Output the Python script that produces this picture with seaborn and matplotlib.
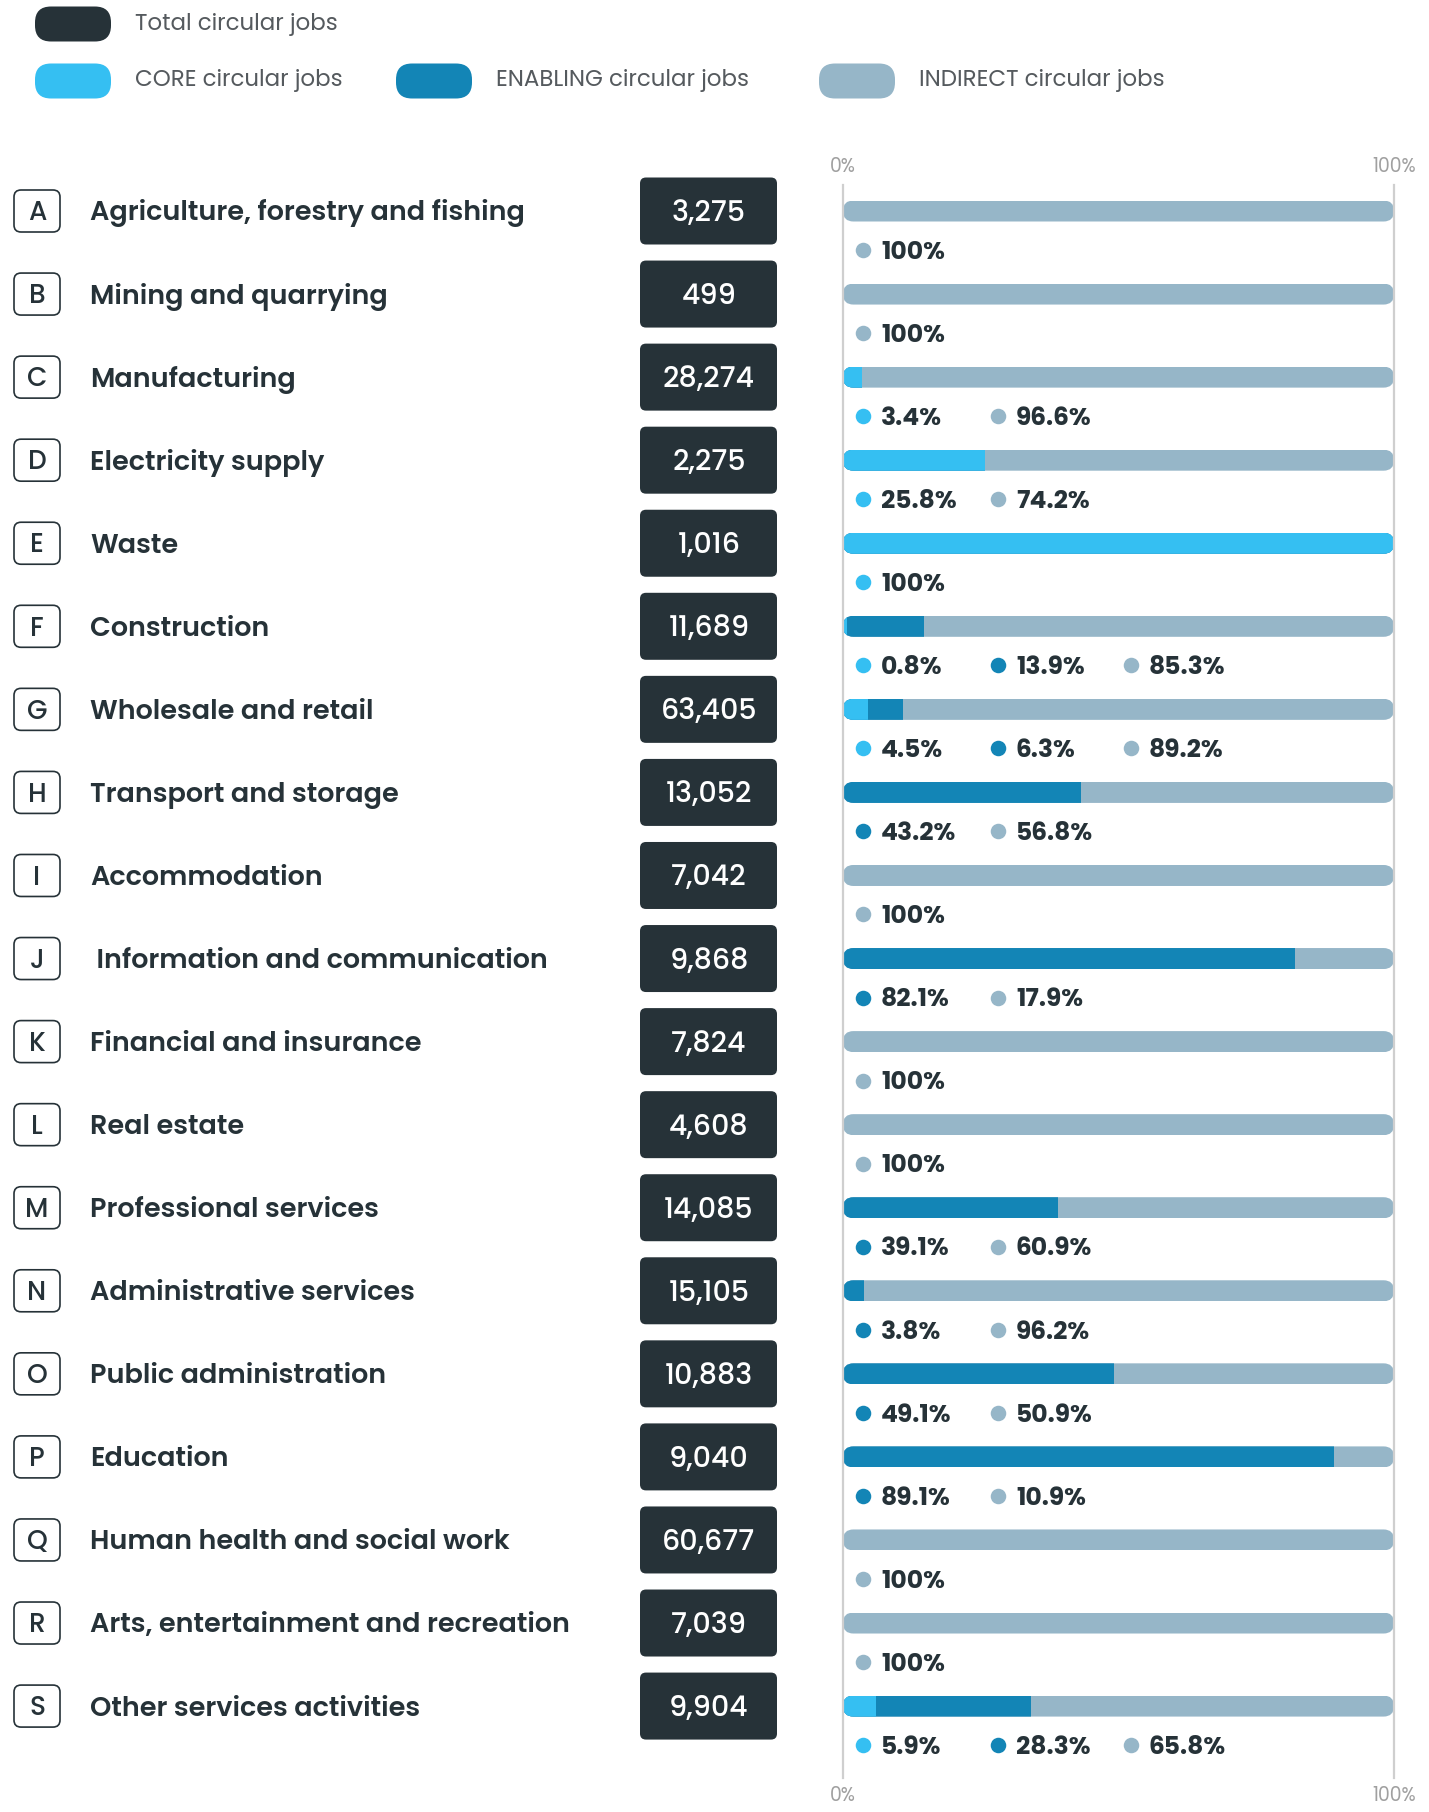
import pandas as pd
import matplotlib.pyplot as plt
import seaborn as sns
from matplotlib.patches import FancyBboxPatch

letters = list("ABCDEFGHIJKLMNOPQRS")
sectors = ["Agriculture, forestry and fishing", "Mining and quarrying", "Manufacturing",
           "Electricity supply", "Waste", "Construction", "Wholesale and retail",
           "Transport and storage", "Accommodation", " Information and communication",
           "Financial and insurance", "Real estate", "Professional services",
           "Administrative services", "Public administration", "Education",
           "Human health and social work", "Arts, entertainment and recreation",
           "Other services activities"]
total_jobs = [3275, 499, 28274, 2275, 1016, 11689, 63405, 13052, 7042, 9868,
              7824, 4608, 14085, 15105, 10883, 9040, 60677, 7039, 9904]
core = [0, 0, 3.4, 25.8, 100, 0.8, 4.5, 0, 0, 0, 0, 0, 0, 0, 0, 0, 0, 0, 5.9]
enabling = [0, 0, 0, 0, 0, 13.9, 6.3, 43.2, 0, 82.1, 0, 0, 39.1, 3.8, 49.1, 89.1, 0, 0, 28.3]
indirect = [100, 100, 96.6, 74.2, 0, 85.3, 89.2, 56.8, 100, 17.9, 100, 100, 60.9, 96.2,
            50.9, 10.9, 100, 100, 65.8]

C_TOTAL = "#263238"
C_CORE = "#35BFF2"
C_ENAB = "#1385B6"
C_IND = "#96B6C8"
C_GRID = "#cfcfcf"

df = pd.DataFrame({"letter": letters, "sector": sectors, "total": total_jobs,
                   "core": core, "enabling": enabling, "indirect": indirect})
df["cum_core"] = df["core"]
df["cum_enab"] = df["core"] + df["enabling"]
df["cum_all"] = df["core"] + df["enabling"] + df["indirect"]

sns.set_theme(style="white")
plt.rcParams["font.family"] = ["Poppins", "DejaVu Sans"]

W, H = 1429, 1812
fig = plt.figure(figsize=(W / 100, H / 100), dpi=100)

# pixel-space background axes for the legend
bg = fig.add_axes([0, 0, 1, 1])
bg.set_xlim(0, W)
bg.set_ylim(H, 0)
bg.axis("off")

ROW0, STEP = 211, 83.06
top_px, bot_px = 185, 1778
ylim = ((bot_px - ROW0) / STEP, (top_px - ROW0) / STEP)
x0_px, x1_px = 843, 1394

ax = fig.add_axes([x0_px / W, (H - bot_px) / H, (x1_px - x0_px) / W, (bot_px - top_px) / H])
bar_h = 21 / STEP
for col, c in [("cum_all", C_IND), ("cum_enab", C_ENAB), ("cum_core", C_CORE)]:
    sns.barplot(data=df, x=col, y="letter", orient="h", color=c, saturation=1,
                width=bar_h, linewidth=0, ax=ax)
ax.set_xlim(0, 100)
ax.set_ylim(*ylim)
ax.set_ylabel("")
ax.set_xlabel("")
ax.set_yticks([])
ax.set_xticks([0, 100])
ax.set_xticklabels(["0%", "100%"])
ax.tick_params(axis="x", length=0, top=True, labeltop=True, bottom=True, labelbottom=True,
               labelsize=13.5, labelcolor="#a0a0a0", pad=6)
for s in ["top", "bottom"]:
    ax.spines[s].set_visible(False)
for s in ["left", "right"]:
    ax.spines[s].set_color(C_GRID)
    ax.spines[s].set_linewidth(1.6)

# rounded track clipping for each row
xu_per_px = 100 / (x1_px - x0_px)
yu_per_px = 1 / STEP
for i in range(len(letters)):
    track = FancyBboxPatch((0, i - bar_h / 2), 100, bar_h,
                           boxstyle=f"round,pad=0,rounding_size={10.4 * xu_per_px}",
                           mutation_aspect=yu_per_px / xu_per_px, transform=ax.transData)
    for cont in ax.containers:
        cont.patches[i].set_clip_path(track)

# overlay axes for text (x in pixels, y in rows)
axL = fig.add_axes([0, (H - bot_px) / H, 1, (bot_px - top_px) / H])
axL.set_xlim(0, W)
axL.set_ylim(*ylim)
axL.axis("off")
axL.patch.set_alpha(0)


def base(fs):
    return 0.35 * fs * 100 / 72 / STEP


asp = 1 / STEP
for i, row in df.iterrows():
    axL.add_patch(FancyBboxPatch((14, i - 21 / STEP), 46, 42 / STEP,
                                 boxstyle="round,pad=0,rounding_size=7", mutation_aspect=asp,
                                 facecolor="white", edgecolor=C_TOTAL, linewidth=1.2,
                                 clip_on=False))
    axL.text(37, i + base(19), row["letter"], ha="center", va="baseline",
             fontsize=19, color=C_TOTAL, fontweight="medium")
    axL.text(90, i + base(19.5), row["sector"], ha="left", va="baseline",
             fontsize=19.5, color=C_TOTAL, fontweight="semibold")
    axL.add_patch(FancyBboxPatch((640, i - 33.5 / STEP), 137, 67 / STEP,
                                 boxstyle="round,pad=0,rounding_size=6", mutation_aspect=asp,
                                 facecolor=C_TOTAL, edgecolor="none", clip_on=False))
    axL.text(709, i + base(20.5), f"{row['total']:,}", ha="center", va="baseline",
             fontsize=20.5, color="white", fontweight="medium")

    # percentage labels
    slots = [863, 998, 1131]
    k = 0
    for col, c in [("core", C_CORE), ("enabling", C_ENAB), ("indirect", C_IND)]:
        v = row[col]
        if v <= 0:
            continue
        yy = i + 39 / STEP
        axL.scatter([slots[k]], [yy], s=125, color=c, linewidths=0, zorder=3)
        lab = "100%" if v == 100 else f"{v:.1f}%"
        axL.text(slots[k] + 18, yy + base(18), lab, ha="left", va="baseline",
                 fontsize=18, color=C_TOTAL, fontweight="bold")
        k += 1

# legend
legend_items = [(C_TOTAL, "Total circular jobs", 35, 24),
                (C_CORE, "CORE circular jobs", 35, 81),
                (C_ENAB, "ENABLING circular jobs", 396, 81),
                (C_IND, "INDIRECT circular jobs", 819, 81)]
for c, t, x, y in legend_items:
    bg.add_patch(FancyBboxPatch((x, y - 17.5), 76, 35, boxstyle="round,pad=0,rounding_size=16",
                                facecolor=c, edgecolor="none"))
    bg.text(x + 100, y, t, ha="left", va="center", fontsize=16.5, color="#555a5e",
            fontweight="normal")

fig.savefig("out.png", dpi=100)
